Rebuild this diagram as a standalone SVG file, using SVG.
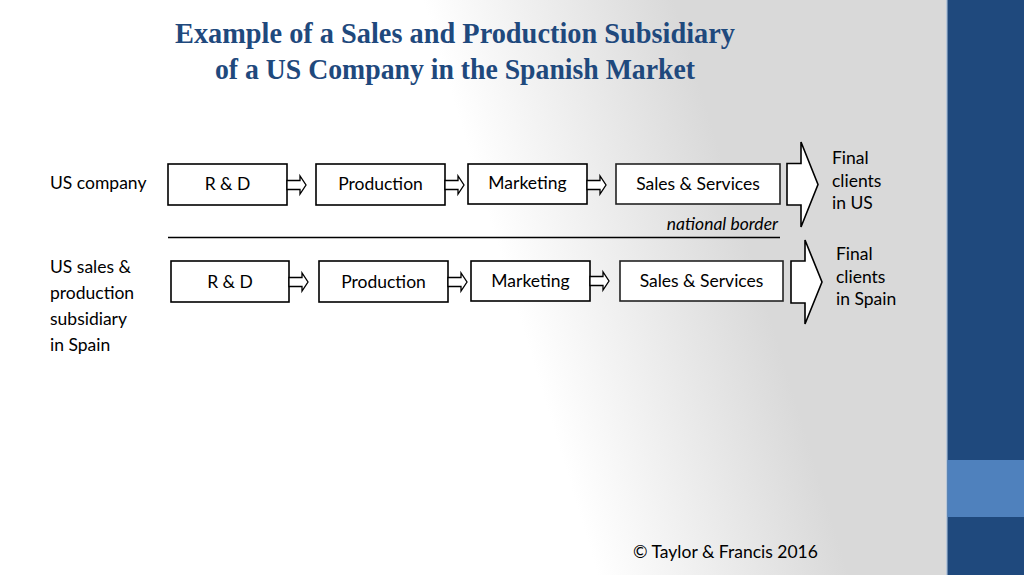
<svg xmlns="http://www.w3.org/2000/svg" width="1024" height="575" viewBox="0 0 1024 575">
<defs>
<linearGradient id="bg" gradientUnits="userSpaceOnUse" x1="520" y1="320" x2="750" y2="250">
<stop offset="0" stop-color="#ffffff"/>
<stop offset="1" stop-color="#d9d9d9"/>
</linearGradient>
<style>
.box{fill:#ffffff;stroke:#000;stroke-width:1.6}
.box2{fill:#ffffff;stroke:#222;stroke-width:1.6}
.lbl{font-family:Lato,"Liberation Sans",sans-serif;font-size:17.5px;fill:#000}
.ctr{text-anchor:middle}
.title{font-family:"Liberation Serif","DejaVu Serif",serif;font-weight:bold;font-size:30px;fill:#1f497d;text-anchor:middle}
.arr{fill:#ffffff;stroke:#000;stroke-width:1.3;stroke-linejoin:miter}
.big{fill:#ffffff;stroke:#000;stroke-width:1.6;stroke-linejoin:miter}
</style>
<path id="sa" d="M0,-4.5 H13 V-9 L19,0 L13,9 V4.5 H0 Z"/>
</defs>
<rect x="0" y="0" width="1024" height="575" fill="url(#bg)"/>
<g id="sidebar">
<rect x="946" y="0" width="78" height="575" fill="#1f497d"/>
<rect x="946" y="0" width="1.5" height="575" fill="#b8c7da"/>
<rect x="947.5" y="460" width="76.5" height="57" fill="#4f81bd"/>
</g>
<g id="title">
<text class="title" x="455" y="43" textLength="560" lengthAdjust="spacingAndGlyphs">Example of a Sales and Production Subsidiary</text>
<text class="title" x="455" y="79" textLength="480" lengthAdjust="spacingAndGlyphs">of a US Company in the Spanish Market</text>
</g>
<g id="label-us"><text class="lbl" x="50" y="189">US company</text></g>
<g id="label-spain">
<text class="lbl" x="50" y="273">US sales &amp;</text>
<text class="lbl" x="50" y="299">production</text>
<text class="lbl" x="50" y="325">subsidiary</text>
<text class="lbl" x="50" y="351">in Spain</text>
</g>
<g id="us-rd"><rect class="box" x="168" y="164" width="119" height="41"/><text class="lbl ctr" x="227.5" y="190">R &amp; D</text></g>
<g id="us-production"><rect class="box" x="316" y="164" width="129" height="41"/><text class="lbl ctr" x="380.5" y="190">Production</text></g>
<g id="us-marketing"><rect class="box" x="468" y="164" width="119" height="40"/><text class="lbl ctr" x="527.5" y="189">Marketing</text></g>
<g id="us-sales"><rect class="box2" x="616" y="164" width="164" height="40"/><text class="lbl ctr" x="698" y="190">Sales &amp; Services</text></g>
<g id="us-clients">
<text class="lbl" x="832" y="164">Final</text>
<text class="lbl" x="832" y="187">clients</text>
<text class="lbl" x="832" y="209">in US</text>
</g>
<g id="border">
<line x1="168" y1="237.5" x2="780" y2="237.5" stroke="#000" stroke-width="1.3"/>
<text class="lbl" x="778" y="230" text-anchor="end" font-style="italic">national border</text>
</g>
<g id="es-rd"><rect class="box" x="171" y="261" width="118" height="41"/><text class="lbl ctr" x="230" y="288">R &amp; D</text></g>
<g id="es-production"><rect class="box" x="319" y="261" width="129" height="41"/><text class="lbl ctr" x="383.5" y="288">Production</text></g>
<g id="es-marketing"><rect class="box" x="471" y="261" width="119" height="40"/><text class="lbl ctr" x="530.5" y="287">Marketing</text></g>
<g id="es-sales"><rect class="box2" x="620" y="261" width="163" height="40"/><text class="lbl ctr" x="701.5" y="287">Sales &amp; Services</text></g>
<g id="es-clients">
<text class="lbl" x="836" y="260">Final</text>
<text class="lbl" x="836" y="283">clients</text>
<text class="lbl" x="836" y="305">in Spain</text>
</g>
<g id="connectors">
<use href="#sa" class="arr" x="287" y="185"/>
<use href="#sa" class="arr" x="445" y="185"/>
<use href="#sa" class="arr" x="587" y="185"/>
<use href="#sa" class="arr" x="289" y="282"/>
<use href="#sa" class="arr" x="448" y="282"/>
<use href="#sa" class="arr" x="590" y="281"/>
<path class="big" d="M787,163.5 H801 V142 L818,184.5 L801,227 V205 H787 Z"/>
<path class="big" d="M791,261 H805 V240 L822,282 L805,324 V303 H791 Z"/>
</g>
<g id="copyright"><text class="lbl" x="633" y="558">© Taylor &amp; Francis 2016</text></g>
</svg>
